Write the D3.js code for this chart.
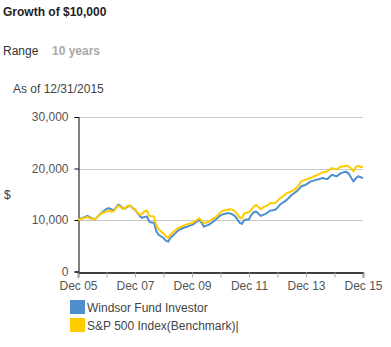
<!DOCTYPE html>
<html><head><meta charset="utf-8">
<script src="https://cdn.jsdelivr.net/npm/d3@7"></script>
<style>
body{margin:0;background:#fff;font-family:"Liberation Sans",Arial,sans-serif;}
</style></head><body>
<svg id="c" width="391" height="347"></svg>
<script>
const startDate = new Date(2005, 11, 31);
const seriesNames = ["Windsor Fund Investor", "S&P 500 Index(Benchmark)|"];
const seriesColors = ["#4F8FCE", "#FFCC00"];
const windsor = [10000,10300,10400,10600,10800,10500,10300,10150,10500,11000,11400,11800,
12200,12300,12100,11800,12400,13000,12700,12200,12300,12600,12800,12300,
12000,11400,10800,10400,10600,10700,9700,9500,9450,7800,7100,6800,
6500,6000,5800,6600,7000,7450,7900,8200,8400,8600,8700,8900,
9050,9300,9700,10000,9500,8700,8900,9050,9400,9700,10100,10500,
10900,11100,11200,11300,11300,11100,10800,10200,9500,9250,10000,10100,
10150,11000,11500,11650,11200,10800,11000,11200,11500,11850,11900,12000,
12400,12950,13300,13600,13950,14400,14900,15200,15550,16000,16550,16700,
16850,17200,17500,17600,17800,17850,18000,18150,18000,17950,18400,18800,
18600,18500,18900,19150,19300,19350,19000,18200,17500,18100,18500,18300,18150];
const sp500 = [10000,10200,10300,10450,10600,10300,10250,10150,10500,11000,11300,11500,
11650,11800,11650,11650,12300,12800,12500,12100,12400,12800,12750,12300,
12100,11500,11000,11200,11700,11850,10800,10750,10700,8900,8200,7750,
7400,6900,6500,7200,7600,8000,8400,8600,8800,9050,9200,9300,
9400,9700,10000,10350,9900,9400,9500,9700,10000,10300,10550,11000,
11500,11800,11900,12000,12100,12000,11700,11200,10500,10350,11300,11400,
11500,12000,12600,12950,12500,12100,12500,12700,12900,13300,13300,13300,
13700,14200,14500,14900,15250,15400,15550,15900,16200,16800,17500,17700,
17850,18000,18150,18400,18600,18800,19000,19250,19300,19450,19800,20100,
19900,19800,20200,20400,20450,20550,20400,20000,19450,20300,20500,20300,20300];
const yTicks = [0, 10000, 20000, 30000];
const xTickLabels = ["Dec 05","Dec 07","Dec 09","Dec 11","Dec 13","Dec 15"];

const svg = d3.select("#c");
const x0 = 78, x1 = 363, yTop = 117, yBot = 271.5;
const x = d3.scaleLinear().domain([0, 120]).range([x0, x1]);
const y = d3.scaleLinear().domain([0, 30000]).range([yBot, yTop]);

// titles
svg.append("text").attr("x",3).attr("y",16).attr("font-size","12px").attr("font-weight","bold").attr("fill","#222").text("Growth of $10,000");
const r = svg.append("text").attr("x",3).attr("y",55).attr("font-size","12px").attr("fill","#333");
r.append("tspan").text("Range");
r.append("tspan").attr("x",52).attr("font-weight","bold").attr("fill","#aaa").text("10 years");
svg.append("text").attr("x",13).attr("y",93).attr("font-size","12px").attr("fill","#444").text("As of 12/31/2015");

// grid
svg.append("g").selectAll("line").data(yTicks.filter(d=>d>0)).join("line")
  .attr("x1",x0).attr("x2",x1).attr("y1",d=>Math.round(y(d))+0.5).attr("y2",d=>Math.round(y(d))+0.5)
  .attr("stroke","#c8c8c8").attr("stroke-width",1);

// y axis
const yAxis = svg.append("g").attr("transform",`translate(${x0+0.5},0)`)
  .call(d3.axisLeft(y).tickValues(yTicks).tickFormat(d3.format(",")).tickSize(4).tickPadding(6));
yAxis.select(".domain").attr("stroke","#000");
yAxis.selectAll(".tick line").attr("stroke","#000");
yAxis.selectAll("text").attr("font-size","12px").attr("fill","#555").attr("font-family","Liberation Sans, Arial, sans-serif");
svg.append("text").attr("x",4).attr("y",199).attr("font-size","12px").attr("fill","#335").text("$");

// x axis
const xAxis = svg.append("g").attr("transform",`translate(0,${Math.round(yBot)+0.5})`)
  .call(d3.axisBottom(x).tickValues(d3.range(0,121,12)).tickSize(5).tickPadding(4)
    .tickFormat(d => (d % 24 === 0) ? xTickLabels[d/24] : ""));
xAxis.select(".domain").attr("stroke","#000").attr("stroke-width",1.5);
xAxis.selectAll(".tick line").attr("stroke","#aaa");
xAxis.selectAll("text").attr("font-size","12px").attr("fill","#555").attr("font-family","Liberation Sans, Arial, sans-serif");

// lines
const line = d3.line().x((d,i)=>x(i)).y(d=>y(d)).curve(d3.curveLinear);
[windsor, sp500].forEach((s,k)=>{
  svg.append("path").datum(s).attr("d",line).attr("fill","none")
    .attr("stroke",seriesColors[k]).attr("stroke-width",2).attr("stroke-linejoin","round");
});

// legend
const lg = svg.append("g");
seriesNames.forEach((n,k)=>{
  lg.append("rect").attr("x",70).attr("y",300+k*18).attr("width",15).attr("height",14).attr("fill",seriesColors[k]);
  lg.append("text").attr("x",87).attr("y",312+k*18).attr("font-size","12px").attr("fill","#444").text(n);
});
</script></body></html>
